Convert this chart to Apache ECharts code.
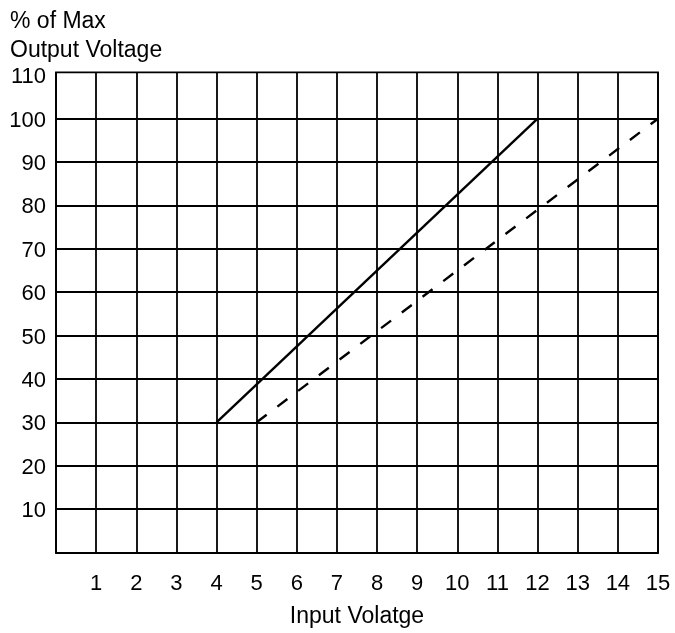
<!DOCTYPE html>
<html>
<head>
<meta charset="utf-8">
<script src="https://cdn.jsdelivr.net/npm/echarts@6/dist/echarts.min.js"></script>
<style>
  html, body { margin: 0; padding: 0; background: #fff; }
  #chart { width: 675px; height: 633px; }
</style>
</head>
<body>
<div id="chart"></div>
<script>
// ---- data ----
const titleLines = ['% of Max', 'Output Voltage'];
const xAxisTitle = 'Input Volatge';
const xTicks = [1, 2, 3, 4, 5, 6, 7, 8, 9, 10, 11, 12, 13, 14, 15];
const yTicks = [10, 20, 30, 40, 50, 60, 70, 80, 90, 100, 110];
const solidX = [4, 12];
const solidY = [30, 100];
const dashedX = [5, 15];
const dashedY = [30, 100];

const FONT = 'Liberation Sans, Arial, Helvetica, sans-serif';
const FS = 22;
const FS_TITLE = 23;

const chart = echarts.init(document.getElementById('chart'), null, { renderer: 'canvas' });

const toPairs = (xs, ys) => xs.map((x, i) => [x, ys[i]]);

chart.setOption({
  animation: false,
  backgroundColor: '#fff',
  title: {
    text: titleLines.join('\n'),
    left: 5,
    top: 2,
    textStyle: { fontFamily: FONT, fontSize: FS_TITLE, fontWeight: 'normal', color: '#000', lineHeight: 29 }
  },
  grid: [
    { left: 56, top: 72.3, width: 602, height: 483.4, show: true, borderColor: '#000', borderWidth: 1.8, backgroundColor: 'transparent', containLabel: false },
    { left: 56, top: 75.3, width: 602, height: 477.1, show: false, containLabel: false }
  ],
  xAxis: [
    {
      type: 'value', gridIndex: 0, min: 0, max: 15, interval: 1,
      name: xAxisTitle, nameLocation: 'middle', nameGap: 52,
      nameTextStyle: { fontFamily: FONT, fontSize: FS_TITLE, color: '#000' },
      axisLine: { show: false }, axisTick: { show: false },
      axisLabel: {
        fontFamily: FONT, fontSize: FS, color: '#000', margin: 20,
        formatter: v => (xTicks.indexOf(v) >= 0 ? String(v) : '')
      },
      splitLine: { show: true, lineStyle: { color: '#000', width: 1.8 } }
    },
    { type: 'value', gridIndex: 1, min: 0, max: 15, show: false }
  ],
  yAxis: [
    { type: 'value', gridIndex: 0, min: 0, max: 1, show: false },
    {
      type: 'value', gridIndex: 1, min: 0, max: 110, interval: 10,
      axisLine: { show: false }, axisTick: { show: false },
      axisLabel: {
        fontFamily: FONT, fontSize: FS, color: '#000', margin: 10,
        verticalAlign: 'top', lineHeight: 22, padding: [-9, 0, 0, 0],
        formatter: v => (yTicks.indexOf(v) >= 0 ? String(v) : '')
      },
      splitLine: { show: true, showMinLine: false, showMaxLine: false, lineStyle: { color: '#000', width: 1.8 } }
    }
  ],
  series: [
    {
      type: 'line', xAxisIndex: 1, yAxisIndex: 1,
      data: toPairs(solidX, solidY),
      symbol: 'none', silent: true,
      lineStyle: { color: '#000', width: 2.4, type: 'solid' }
    },
    {
      type: 'line', xAxisIndex: 1, yAxisIndex: 1,
      data: toPairs(dashedX, dashedY),
      symbol: 'none', silent: true,
      lineStyle: { color: '#000', width: 2.4, type: [12.5, 13.5] }
    }
  ]
});
</script>
</body>
</html>
